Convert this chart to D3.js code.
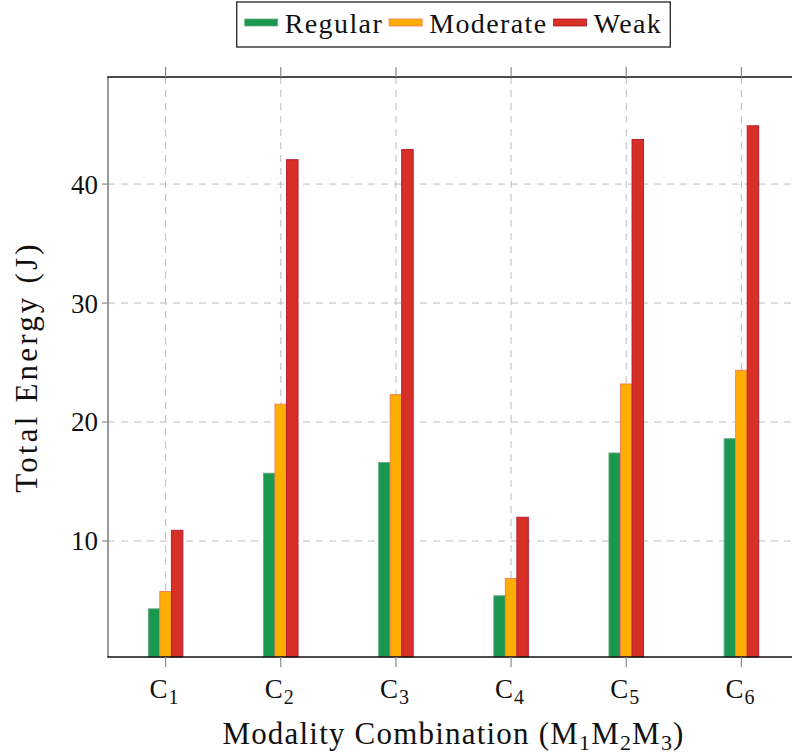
<!DOCTYPE html>
<html lang="en">
<head>
    <meta charset="UTF-8">
    <title>Total Energy by Modality Combination</title>
    <style>
        body { margin: 0; background: #fff; }
        svg { display: block; font-family: "Liberation Serif", "DejaVu Serif", serif; }
        .grid line { stroke: #bdbdbd; stroke-width: 1; stroke-dasharray: 7 6; }
        .tick-mark { stroke: #8a8a8a; stroke-width: 1.2; }
        .tick-label { font-size: 27px; fill: #111; }
        .axis-title { font-size: 31px; fill: #111; }
        .legend-text { font-size: 28px; fill: #111; letter-spacing: 1.4px; }
    </style>
</head>
<body>
<div id="chart"></div>
<script src="https://cdn.jsdelivr.net/npm/d3@7"></script>
<script>
    // chart values
    const categories = ["1", "2", "3", "4", "5", "6"];   // C subscript
    const seriesNames = ["Regular", "Moderate", "Weak"];
    const regular = [4.3, 15.7, 16.6, 5.4, 17.4, 18.6];
    const moderate = [5.75, 21.5, 22.3, 6.85, 23.2, 24.35];
    const weak = [10.9, 42.05, 42.9, 12.0, 43.75, 44.9];
    const yTicks = [10, 20, 30, 40];

    const fills = ["#1a9850", "#fdae00", "#d73027"];
    const strokes = ["#6aa886", "#f47a5a", "#b5152d"];

    const W = 792, H = 754;
    const margin = {left: 108, top: 77, bottom: 97};
    const plotRight = 799;   // axis box runs past the window edge

    const svg = d3.select("#chart").append("svg")
        .attr("width", W)
        .attr("height", H);

    let x0 = d3.scaleBand()
        .domain(categories)
        .range([margin.left, plotRight])
        .padding(0);
    let x1 = d3.scaleBand()
        .domain(seriesNames)
        .range([-17.3, 17.3]);
    let y = d3.scaleLinear()
        .domain([0.25, 49])
        .range([H - margin.bottom, margin.top]);

    const plotTop = margin.top, plotBottom = H - margin.bottom;

    // grid
    let grid = svg.append("g").attr("class", "grid");
    grid.selectAll(".gx")
        .data(categories)
        .enter().append("line")
        .attr("x1", d => x0(d) + x0.bandwidth() / 2)
        .attr("x2", d => x0(d) + x0.bandwidth() / 2)
        .attr("y1", plotTop)
        .attr("y2", plotBottom);
    grid.selectAll(".gy")
        .data(yTicks)
        .enter().append("line")
        .attr("x1", margin.left)
        .attr("x2", plotRight)
        .attr("y1", d => y(d))
        .attr("y2", d => y(d));

    // bars
    const table = categories.map((c, i) => ({cat: c, vals: [regular[i], moderate[i], weak[i]]}));
    let groups = svg.selectAll(".grp")
        .data(table)
        .enter().append("g")
        .attr("transform", d => "translate(" + (x0(d.cat) + x0.bandwidth() / 2) + ",0)");
    groups.selectAll("rect")
        .data(d => d.vals.map((v, k) => ({name: seriesNames[k], v: v, k: k})))
        .enter().append("rect")
        .attr("x", d => x1(d.name))
        .attr("width", x1.bandwidth())
        .attr("y", d => y(d.v))
        .attr("height", d => plotBottom - y(d.v))
        .attr("fill", d => fills[d.k])
        .attr("stroke", d => strokes[d.k])
        .attr("stroke-width", 0.9);

    // axis frame
    svg.append("line").attr("x1", margin.left).attr("x2", margin.left)
        .attr("y1", plotTop).attr("y2", plotBottom)
        .attr("stroke", "#777").attr("stroke-width", 1.5);
    svg.append("line").attr("x1", margin.left - 0.7).attr("x2", plotRight)
        .attr("y1", plotTop).attr("y2", plotTop)
        .attr("stroke", "#111").attr("stroke-width", 1.4);
    svg.append("line").attr("x1", margin.left - 0.7).attr("x2", plotRight)
        .attr("y1", plotBottom).attr("y2", plotBottom)
        .attr("stroke", "#111").attr("stroke-width", 1.4);

    // x ticks (top and bottom, outward)
    categories.forEach(c => {
        let cx = x0(c) + x0.bandwidth() / 2;
        svg.append("line").attr("class", "tick-mark")
            .attr("x1", cx).attr("x2", cx).attr("y1", plotBottom).attr("y2", plotBottom + 10);
        svg.append("line").attr("class", "tick-mark")
            .attr("x1", cx).attr("x2", cx).attr("y1", plotTop).attr("y2", plotTop - 10);
        let t = svg.append("text")
            .attr("class", "tick-label")
            .attr("x", cx - 1)
            .attr("y", plotBottom + 41)
            .attr("text-anchor", "middle")
            .attr("letter-spacing", "1px");
        t.append("tspan").text("C");
        t.append("tspan").attr("dy", 6).attr("font-size", "20px").text(c);
    });

    // y ticks
    yTicks.forEach(v => {
        svg.append("line").attr("class", "tick-mark")
            .attr("x1", margin.left - 6).attr("x2", margin.left).attr("y1", y(v)).attr("y2", y(v));
        svg.append("text")
            .attr("class", "tick-label")
            .attr("x", margin.left - 10)
            .attr("y", y(v))
            .attr("dy", "0.35em")
            .attr("text-anchor", "end")
            .text(v);
    });

    // axis titles
    let xt = svg.append("text")
        .attr("class", "axis-title")
        .attr("x", (margin.left + plotRight) / 2)
        .attr("y", 744)
        .attr("text-anchor", "middle")
        .attr("letter-spacing", "1.2px");
    xt.append("tspan").text("Modality Combination (M");
    xt.append("tspan").attr("dy", 6).attr("font-size", "22px").text("1");
    xt.append("tspan").attr("dy", -6).text("M");
    xt.append("tspan").attr("dy", 6).attr("font-size", "22px").text("2");
    xt.append("tspan").attr("dy", -6).text("M");
    xt.append("tspan").attr("dy", 6).attr("font-size", "22px").text("3");
    xt.append("tspan").attr("dy", -6).text(")");

    svg.append("text")
        .attr("class", "axis-title")
        .attr("transform", "translate(37," + ((plotTop + plotBottom) / 2) + ") rotate(-90)")
        .attr("text-anchor", "middle")
        .attr("letter-spacing", "3.2px")
        .text("Total Energy (J)");

    // legend
    let legend = svg.append("g");
    let box = legend.append("rect")
        .attr("fill", "#fff")
        .attr("stroke", "#222")
        .attr("stroke-width", 1.3);
    let cursor = 0;
    seriesNames.forEach((name, k) => {
        legend.append("rect")
            .attr("x", cursor).attr("y", 19)
            .attr("width", 33).attr("height", 7)
            .attr("fill", fills[k])
            .attr("stroke", strokes[k])
            .attr("stroke-width", 0.8);
        let t = legend.append("text")
            .attr("class", "legend-text")
            .attr("x", cursor + 40)
            .attr("y", 33)
            .text(name);
        cursor += 40 + t.node().getComputedTextLength() + 6;
    });
    let legendW = cursor - 6;
    let boxW = legendW + 16;
    let boxX = (margin.left + plotRight) / 2 - boxW / 2;
    box.attr("x", -8).attr("y", 2).attr("width", boxW).attr("height", 45);
    legend.attr("transform", "translate(" + (boxX + 8) + ",0)");
</script>
</body>
</html>
